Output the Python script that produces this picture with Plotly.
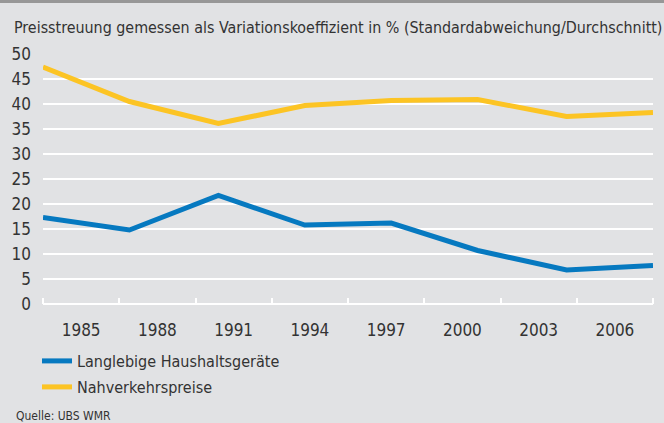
import plotly.graph_objects as go

# Data
years = [1983.5, 1986.9, 1990.4, 1993.8, 1997.2, 2000.6, 2004.1, 2007.5]
haushalt = [17.3, 14.8, 21.7, 15.8, 16.2, 10.7, 6.8, 7.7]
nahverkehr = [47.4, 40.5, 36.1, 39.7, 40.7, 40.9, 37.5, 38.3]
tick_years = [1985, 1988, 1991, 1994, 1997, 2000, 2003, 2006]
tick_labels = [str(y) for y in tick_years]
y_ticks = [0, 5, 10, 15, 20, 25, 30, 35, 40, 45, 50]

series_names = ["Langlebige Haushaltsgeräte", "Nahverkehrspreise"]
BLUE = "#0679c0"
YELLOW = "#fcc424"
BG = "#e1e2e4"
TXT = "#333333"
FONT = "Liberation Sans Narrow, DejaVu Sans Condensed, sans-serif"

W, H = 664, 423
L, R, T, B = 43, 11, 54, 119
pw = W - L - R
ph = H - T - B


def px_y(py):
    """convert pixel row (from top) to paper y"""
    return (H - B - py) / ph


def px_x(px):
    return (px - L) / pw


fig = go.Figure()
fig.add_trace(go.Scatter(x=years, y=haushalt, mode="lines", name=series_names[0],
                         line=dict(color=BLUE, width=5), legend="legend"))
fig.add_trace(go.Scatter(x=years, y=nahverkehr, mode="lines", name=series_names[1],
                         line=dict(color=YELLOW, width=5), legend="legend2"))

leg_common = dict(orientation="v", xanchor="left", yanchor="middle",
                  bgcolor="rgba(0,0,0,0)", font=dict(size=16, family=FONT, color=TXT),
                  itemwidth=30)

fig.update_layout(
    width=W, height=H,
    margin=dict(l=L, r=R, t=T, b=B),
    paper_bgcolor=BG, plot_bgcolor=BG,
    font=dict(family=FONT, color=TXT, size=17),
    showlegend=True,
    legend=dict(x=px_x(37), y=px_y(361), **leg_common),
    legend2=dict(x=px_x(37), y=px_y(387), **leg_common),
    xaxis=dict(range=[1983.5, 2007.5], tickvals=tick_years, ticktext=tick_labels,
               showgrid=False, zeroline=False, showline=False, ticks="",
               ticklabelstandoff=14,
               tickfont=dict(size=17, family=FONT, color=TXT),
               minor=dict(tick0=1983.5, dtick=3, ticks="inside", ticklen=6,
                          tickwidth=2, tickcolor="white", showgrid=False)),
    yaxis=dict(range=[0, 50], tickvals=y_ticks, showgrid=True, gridcolor="white",
               gridwidth=2, zeroline=True, zerolinecolor="white", zerolinewidth=2,
               showline=False, ticks="", ticklabelstandoff=11,
               tickfont=dict(size=17, family=FONT, color=TXT)),
    shapes=[dict(type="rect", xref="paper", yref="paper",
                 x0=px_x(0), x1=px_x(W), y0=px_y(3), y1=px_y(0),
                 fillcolor="#979797", line=dict(width=0), layer="above")],
    annotations=[
        dict(text="Preisstreuung gemessen als Variationskoeffizient in % (Standardabweichung/Durchschnitt)",
             xref="paper", yref="paper", x=px_x(12), y=px_y(28),
             xanchor="left", yanchor="middle", showarrow=False,
             font=dict(size=15.9, family=FONT, color=TXT)),
        dict(text="Quelle: UBS WMR", xref="paper", yref="paper",
             x=px_x(14), y=px_y(416), xanchor="left", yanchor="middle",
             showarrow=False, font=dict(size=12, family=FONT, color=TXT)),
    ],
)

fig.write_html("out.html", config={"displayModeBar": False},
               post_script="document.body.style.margin='0';document.body.style.padding='0';")
